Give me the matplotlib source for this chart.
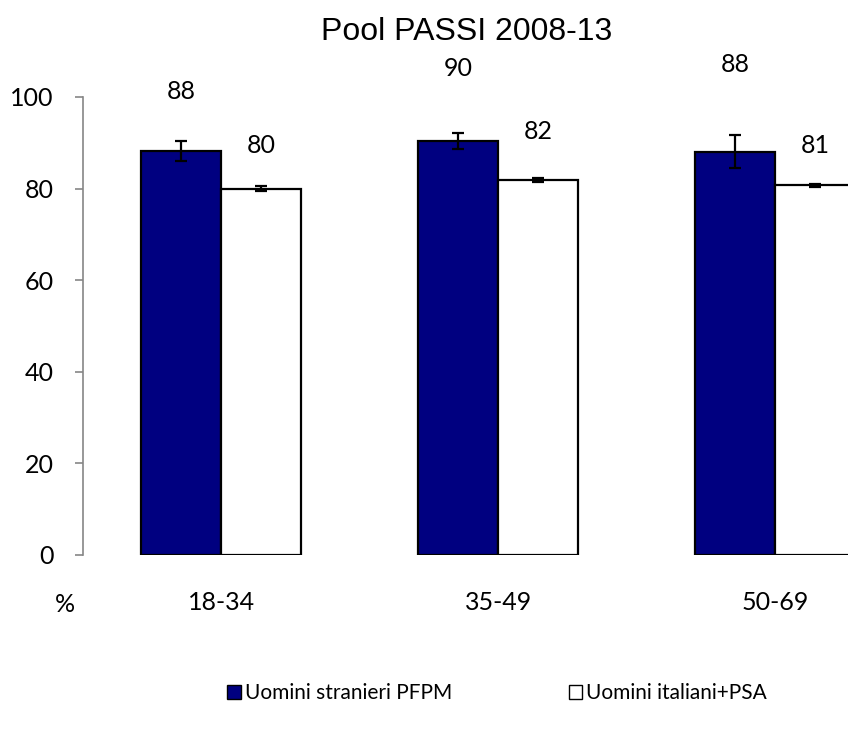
import numpy as np
import matplotlib.pyplot as plt
from matplotlib.patches import Patch

# Data
age_groups = ['18-34', '35-49', '50-69']
stranieri = [88.3, 90.4, 88.1]
stranieri_err = [2.2, 1.7, 3.6]
italiani = [80.0, 81.9, 80.7]
italiani_err = [0.6, 0.5, 0.4]
stranieri_labels = ['88', '90', '88']
italiani_labels = ['80', '82', '81']
series_names = ['Uomini stranieri PFPM', 'Uomini italiani+PSA']
y_ticks = [0, 20, 40, 60, 80, 100]

# label heights as in the original (placed by hand)
stranieri_label_y = [101.3, 106.2, 107.0]
italiani_label_y = [89.5, 92.4, 89.5]

plt.rcParams['font.family'] = ['Lato', 'DejaVu Sans']

fig = plt.figure(figsize=(8.48, 7.31), dpi=100)
ax = fig.add_axes([83 / 848, 176 / 731, 830.5 / 848, 458 / 731])

x = np.arange(len(age_groups))
w = 0.289
navy = '#000080'

ax.bar(x - w / 2, stranieri, w, color=navy, edgecolor='black', linewidth=1.6, zorder=2)
ax.bar(x + w / 2, italiani, w, color='white', edgecolor='black', linewidth=1.6, zorder=2)
ax.errorbar(x - w / 2, stranieri, yerr=stranieri_err, fmt='none', ecolor='black',
            elinewidth=1.6, capsize=4, capthick=1.6, zorder=3)
ax.errorbar(x + w / 2, italiani, yerr=italiani_err, fmt='none', ecolor='black',
            elinewidth=1.6, capsize=4, capthick=1.6, zorder=3)

for i in range(len(age_groups)):
    ax.text(x[i] - w / 2, stranieri_label_y[i], stranieri_labels[i], ha='center', va='center',
            fontsize=18, clip_on=False)
    ax.text(x[i] + w / 2, italiani_label_y[i], italiani_labels[i], ha='center', va='center',
            fontsize=18, clip_on=False)

ax.set_xlim(-0.5, 2.5)
ax.set_ylim(0, 100)
ax.set_yticks(y_ticks)
ax.set_xticks(x)
ax.set_xticklabels(age_groups)
ax.tick_params(axis='y', direction='out', length=6, width=1.2, color='#868686',
               labelsize=18, pad=15)
ax.tick_params(axis='x', length=0, labelsize=18, pad=26)
for s in ['top', 'right', 'bottom']:
    ax.spines[s].set_visible(False)
ax.spines['left'].set_color('#868686')
ax.spines['left'].set_linewidth(1.2)

fig.text(65 / 848, 1 - 605 / 731, '%', ha='center', va='center', fontsize=18)
fig.text(467 / 848, 1 - 32 / 731, 'Pool PASSI 2008-13', ha='center', va='center',
         fontsize=23, family=['Liberation Sans Narrow', 'Liberation Sans'])

handles = [Patch(facecolor=navy, edgecolor='black', linewidth=1),
           Patch(facecolor='white', edgecolor='black', linewidth=1)]
fig.legend(handles, series_names, loc='center', bbox_to_anchor=(497 / 848, 1 - 693 / 731),
           ncol=2, frameon=False, fontsize=15, handlelength=0.65, handleheight=0.65,
           handletextpad=0.2, columnspacing=5.6)

fig.savefig('out.png', dpi=100)
